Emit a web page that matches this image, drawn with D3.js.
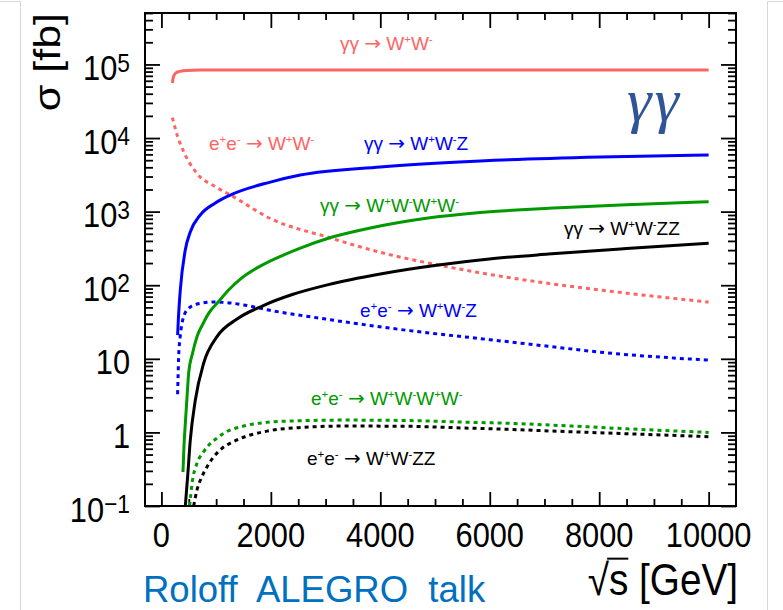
<!DOCTYPE html>
<html><head><meta charset="utf-8">
<script src="https://cdn.jsdelivr.net/npm/d3@7"></script>
<style>body{margin:0;background:#fff} svg{display:block}</style>
</head><body>
<svg id="c" width="783" height="610"></svg>
<script>
// ---------------- data ----------------
const xTickValues = [0, 2000, 4000, 6000, 8000, 10000];
const xTickLabels = ["0", "2000", "4000", "6000", "8000", "10000"];
const yTickValues = [0.1, 1, 10, 100, 1000, 10000, 100000];
const yTickLabels = ["10^−1", "1", "10", "10^2", "10^3", "10^4", "10^5"];

// [sqrt(s) GeV, sigma fb]
const ggWW = [[200,5.6e4],[215,6.6e4],[240,7.3e4],[280,7.8e4],[350,8.1e4],[467,8.3e4],[700,8.4e4],[2000,8.4e4],[6000,8.4e4],[10000,8.4e4]];
const eeWW = [[200,1.9e4],[300,1.03e4],[400,6.7e3],[650,3.3e3],[1000,2.15e3],[1263,1.68e3],[2000,800],[3048,448],[4000,280],[5062,188],[6000,140],[7070,106],[8500,78],[10000,59]];
const ggWWZ = [[296,21],[310,35],[345,86],[436,301],[527,528],[710,900],[985,1310],[1259,1680],[1990,2520],[2538,3140],[4000,4040],[5828,4870],[8021,5520],[10000,5870]];
const eeWWZ = [[296,3.3],[305,6],[315,10.7],[340,19],[376,30],[467,46],[650,55.5],[954,59],[1200,58],[1502,54],[1959,46],[3000,34.7],[4370,25],[6000,18.2],[7070,14.8],[8020,12.3],[10000,9.6]];
const ggWWWW = [[394,0.29],[410,0.6],[437,1.33],[470,3.2],[498,6.4],[570,12],[650,20],[750,29],[863,41.5],[1045,60],[1228,86],[1442,121],[1807,182],[2228,257],[2539,320],[3050,434],[3818,598],[4841,811],[5828,972],[7070,1109],[8386,1230],[10000,1362]];
const eeWWWW = [[516,0.1],[559,0.2],[650,0.38],[760,0.53],[863,0.67],[1000,0.82],[1137,0.97],[1502,1.22],[1930,1.37],[2500,1.44],[3340,1.47],[4500,1.45],[5500,1.38],[6330,1.33],[7500,1.22],[8500,1.12],[10000,1.0]];
const ggWWZZ = [[437,0.1],[455,0.15],[479,0.25],[528,0.79],[620,2.76],[772,8.7],[1016,20],[1382,34.7],[1862,53],[2392,74.8],[3050,102],[4000,142],[5060,188],[5992,227],[7070,265],[8497,315],[10000,372]];
const eeWWZZ = [[589,0.1],[650,0.165],[740,0.25],[833,0.34],[950,0.46],[1076,0.58],[1382,0.79],[1930,1.04],[2500,1.16],[3340,1.22],[4500,1.21],[5500,1.15],[6330,1.10],[7500,1.02],[8500,0.96],[10000,0.875]];

const labelTexts = ["γγ → W^+W^-", "e^+e^- → W^+W^-", "γγ → W^+W^-Z", "γγ → W^+W^-W^+W^-",
                    "γγ → W^+W^-ZZ", "e^+e^- → W^+W^-Z", "e^+e^- → W^+W^-W^+W^-", "e^+e^- → W^+W^-ZZ"];

// ---------------- layout / style ----------------
const RED = "#ff6464", BLUE = "#0000ff", GREEN = "#009900", BLACK = "#000000";
const L = 145, R = 736, T = 13, B = 506;
const FONT = "'Liberation Sans', Arial, Helvetica, sans-serif";
const SX = 0.88;

const svg = d3.select("#c");
const x = d3.scaleLinear().domain([-300, 10500]).range([L, R]);
const y = d3.scaleLog().domain([0.1, 5e5]).range([B, T]);

// slide borders
svg.append("line").attr("x1",20.5).attr("x2",20.5).attr("y1",1.5).attr("y2",610).attr("stroke","#d6d6d6");
svg.append("line").attr("x1",767.5).attr("x2",767.5).attr("y1",1.5).attr("y2",610).attr("stroke","#d6d6d6");
svg.append("line").attr("x1",0).attr("x2",20.5).attr("y1",1.5).attr("y2",1.5).attr("stroke","#d6d6d6");
svg.append("line").attr("x1",767.5).attr("x2",783).attr("y1",1.5).attr("y2",1.5).attr("stroke","#d6d6d6");

// text helper with ^ superscripts; arrows drawn in a wider font
function richText(parent, str, size, supScale, shift) {
  const t = parent.append("text").attr("font-family", FONT).attr("font-size", size);
  const parts = [];
  let i = 0;
  while (i < str.length) {
    if (str[i] === "^") {
      let s = str[i+1]; i += 2;
      if (s === "−" && /[0-9]/.test(str[i])) { s += str[i]; i++; }
      parts.push({sup: true, text: s});
    } else if (str[i] === "→") {
      parts.push({sup: false, arrow: true, text: "→"}); i++;
    } else {
      const last = parts[parts.length-1];
      if (last && !last.sup && !last.arrow) last.text += str[i];
      else parts.push({sup: false, text: str[i]});
      i++;
    }
  }
  let cur = 0;
  parts.forEach(p => {
    const sp = t.append("tspan").text(p.text);
    if (p.arrow) sp.attr("font-family", "'DejaVu Sans', sans-serif").attr("font-size", size * 1.05);
    if (p.sup) { sp.attr("font-size", size * supScale).attr("dy", -shift - cur); cur = -shift; }
    else { sp.attr("dy", -cur); cur = 0; }
  });
  return t;
}

// frame ticks
const xMinor = d3.range(500, 10500, 500).filter(v => v % 2000 !== 0);
const yMinor = [];
yTickValues.forEach(d => { for (let k = 2; k <= 9; k++) { const v = d * k; if (v <= 5e5 * 1.0001) yMinor.push(v); } });

const tickG = svg.append("g");
function addAxis(axis, tx, ty) {
  const g = tickG.append("g").attr("transform", `translate(${tx},${ty})`).call(axis);
  g.select(".domain").remove();
  g.selectAll("line").attr("stroke", "#000").attr("stroke-width", 1.8);
  g.selectAll("text").remove();
}
addAxis(d3.axisTop(x).tickValues(xTickValues).tickSize(14).tickSizeOuter(0), 0, B);
addAxis(d3.axisTop(x).tickValues(xMinor).tickSize(7).tickSizeOuter(0), 0, B);
addAxis(d3.axisBottom(x).tickValues(xTickValues).tickSize(15).tickSizeOuter(0), 0, T);
addAxis(d3.axisBottom(x).tickValues(xMinor).tickSize(7).tickSizeOuter(0), 0, T);
addAxis(d3.axisRight(y).tickValues(yTickValues).tickSize(15).tickSizeOuter(0), L, 0);
addAxis(d3.axisRight(y).tickValues(yMinor).tickSize(8).tickSizeOuter(0), L, 0);
addAxis(d3.axisLeft(y).tickValues(yTickValues).tickSize(15).tickSizeOuter(0), R, 0);
addAxis(d3.axisLeft(y).tickValues(yMinor).tickSize(8).tickSizeOuter(0), R, 0);

// tick labels
xTickValues.forEach((v, i) => {
  const g = svg.append("g").attr("transform", `translate(${x(v)},547) scale(${SX},1)`);
  g.append("text").attr("font-family", FONT).attr("font-size", 35).attr("text-anchor", "middle").attr("fill", "#000").text(xTickLabels[i]);
});
yTickValues.forEach((v, i) => {
  const g = svg.append("g").attr("transform", `translate(130,${y(v) + 15.5}) scale(${SX},1)`);
  richText(g, yTickLabels[i], 35, 0.74, 8.4).attr("text-anchor", "end").attr("fill", "#000");
});

// curves
svg.append("clipPath").attr("id", "pc").append("rect").attr("x", L).attr("y", T).attr("width", R - L).attr("height", B - T);
const line = d3.line().x(d => x(d[0])).y(d => y(d[1])).curve(d3.curveMonotoneX);
const series = [
  {d: eeWW, c: RED, dot: true}, {d: eeWWZ, c: BLUE, dot: true}, {d: eeWWWW, c: GREEN, dot: true}, {d: eeWWZZ, c: BLACK, dot: true},
  {d: ggWW, c: RED, dot: false}, {d: ggWWZ, c: BLUE, dot: false}, {d: ggWWWW, c: GREEN, dot: false}, {d: ggWWZZ, c: BLACK, dot: false}
];
const cg = svg.append("g").attr("clip-path", "url(#pc)");
series.forEach(s => {
  cg.append("path").attr("d", line(s.d)).attr("fill", "none").attr("stroke", s.c)
    .attr("stroke-width", 3).attr("stroke-dasharray", s.dot ? "4 4" : null);
});

// frame
svg.append("rect").attr("x", L).attr("y", T).attr("width", R - L).attr("height", B - T)
  .attr("fill", "none").attr("stroke", "#000").attr("stroke-width", 2);

// curve labels
const labelPos = [[340,50],[209,150],[364,150],[320,212],[564,235],[360,317],[311,405],[307,465]];
const labelCol = [RED, RED, BLUE, GREEN, BLACK, BLUE, GREEN, BLACK];
labelTexts.forEach((s, i) => {
  const g = svg.append("g").attr("transform", `translate(${labelPos[i][0]},${labelPos[i][1]})`);
  richText(g, s, 19, 0.6, 7).attr("fill", labelCol[i]);
});

// axis titles
const yt = svg.append("g").attr("transform", "translate(60,13) rotate(-90) scale(1,0.88)");
yt.append("text").attr("font-family", FONT).attr("font-size", 43).attr("text-anchor", "end").text("σ [fb]");

const xt = svg.append("g").attr("transform", `translate(738,595) scale(${SX},1)`);
const xtt = xt.append("text").attr("font-family", FONT).attr("font-size", 44).attr("text-anchor", "end").text("√s [GeV]");
try {
  const e0 = xtt.node().getExtentOfChar(0), e1 = xtt.node().getExtentOfChar(1);
  xt.append("line").attr("x1", e0.x + e0.width - 2).attr("x2", e1.x + e1.width).attr("y1", e0.y + 4).attr("y2", e0.y + 4)
    .attr("stroke", "#000").attr("stroke-width", 2);
} catch (e) {}

// slide annotations
svg.append("text").attr("x", 627).attr("y", 121).attr("font-family", "'Liberation Serif', 'DejaVu Serif', serif")
  .attr("font-style", "italic").attr("font-size", 62).attr("letter-spacing", 3).attr("fill", "#2f5597").text("γγ");
svg.append("text").attr("x", 143).attr("y", 602).attr("font-family", FONT).attr("font-size", 36.5)
  .attr("fill", "#0070c0").style("white-space", "pre").text("Roloff  ALEGRO  talk");
</script>
</body></html>
